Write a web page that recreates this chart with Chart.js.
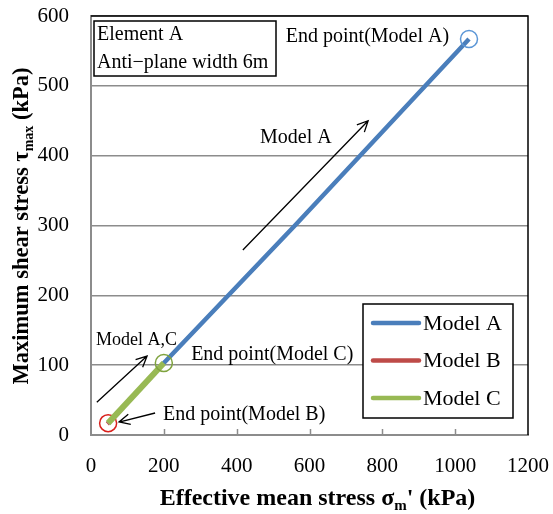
<!DOCTYPE html>
<html>
<head>
<meta charset="utf-8">
<script src="https://cdn.jsdelivr.net/npm/chart.js@4/dist/chart.umd.min.js"></script>
<style>
  html, body { margin: 0; padding: 0; background: #ffffff; }
  #wrap { width: 553px; height: 514px; }
</style>
</head>
<body>
<div id="wrap"><canvas id="chart" width="553" height="514"></canvas></div>
<script>
// Stress path: effective mean stress (kPa) vs maximum shear stress (kPa)
const modelAX = [47, 200, 560, 1038];
const modelAY = [17, 103, 300, 567];
const modelBX = [45, 47];
const modelBY = [16, 17];
const modelCX = [47, 200];
const modelCY = [17, 103];

const seriesLabels = ['Model A', 'Model B', 'Model C'];
const xTickValues = [0, 200, 400, 600, 800, 1000, 1200];
const yTickValues = [0, 100, 200, 300, 400, 500, 600];

const SERIF = "'Liberation Serif', 'Times New Roman', serif";

function pts(xs, ys) { return xs.map((x, i) => ({ x: x, y: ys[i] })); }

// hollow circle only at the final point of each path
function endRadius(r) {
  return ctx => (ctx.dataIndex === ctx.dataset.data.length - 1 ? r : 0);
}

const datasets = [
  {
    label: seriesLabels[0], data: pts(modelAX, modelAY),
    borderColor: '#4A7EBB', borderWidth: 4.5, order: 3,
    pointRadius: endRadius(8.5), pointBorderColor: '#5B96D6',
    pointBorderWidth: 1.5, pointBackgroundColor: 'rgba(0,0,0,0)'
  },
  {
    label: seriesLabels[1], data: pts(modelBX, modelBY),
    borderColor: '#BE4B48', borderWidth: 4.5, order: 2,
    pointRadius: endRadius(8.5), pointBorderColor: '#D9201C',
    pointBorderWidth: 1.5, pointBackgroundColor: 'rgba(0,0,0,0)'
  },
  {
    label: seriesLabels[2], data: pts(modelCX, modelCY),
    borderColor: '#98B954', borderWidth: 6, order: 1,
    pointRadius: endRadius(8.5), pointBorderColor: '#7FA33E',
    pointBorderWidth: 1.5, pointBackgroundColor: 'rgba(0,0,0,0)'
  }
];

// text notes and arrows, placed in data units
const notes = [
  { text: 'End point(Model A)', x: 535, y: 563, size: 20 },
  { text: 'Model A', x: 464, y: 418, size: 20 },
  { text: 'Model A,C', x: 14, y: 129, size: 18 },
  { text: 'End point(Model C)', x: 275, y: 107, size: 20 },
  { text: 'End point(Model B)', x: 198, y: 21.5, size: 20 }
];
const arrows = [
  { x0: 417, y0: 265, x1: 761, y1: 450 },
  { x0: 16, y0: 47, x1: 154, y1: 113 },
  { x0: 176, y0: 31.5, x1: 77, y1: 18.6 }
];
const infoLines = ['Element A', 'Anti\u2212plane width 6m'];

function drawArrow(ctx, ax, ay, bx, by) {
  const ang = Math.atan2(by - ay, bx - ax);
  const head = 12, spread = 0.45;
  ctx.beginPath();
  ctx.moveTo(ax, ay); ctx.lineTo(bx, by);
  ctx.moveTo(bx - head * Math.cos(ang - spread), by - head * Math.sin(ang - spread));
  ctx.lineTo(bx, by);
  ctx.lineTo(bx - head * Math.cos(ang + spread), by - head * Math.sin(ang + spread));
  ctx.stroke();
}

// draws a run of [text, font, baselineShift] pieces starting at x
function drawRuns(ctx, runs, x, y) {
  runs.forEach(r => {
    ctx.font = r[1];
    ctx.fillText(r[0], x, y + r[2]);
    x += ctx.measureText(r[0]).width;
  });
}
function runsWidth(ctx, runs) {
  let w = 0;
  runs.forEach(r => { ctx.font = r[1]; w += ctx.measureText(r[0]).width; });
  return w;
}

const decor = {
  id: 'decor',
  beforeDatasetsDraw(chart) {
    const { ctx, chartArea: a, scales } = chart;
    const xs = scales.x;
    ctx.save();
    // inward tick marks on the x axis
    ctx.strokeStyle = '#8C8C8C';
    ctx.lineWidth = 1.5;
    xTickValues.slice(1, -1).forEach(v => {
      const px = Math.round(xs.getPixelForValue(v)) + 0.5;
      ctx.beginPath(); ctx.moveTo(px, a.bottom); ctx.lineTo(px, a.bottom - 6); ctx.stroke();
    });
    // top and right frame
    ctx.strokeStyle = '#000000';
    ctx.lineWidth = 1.5;
    ctx.beginPath();
    ctx.moveTo(a.left, a.top); ctx.lineTo(a.right, a.top); ctx.lineTo(a.right, a.bottom);
    ctx.stroke();
    ctx.restore();
  },
  afterDraw(chart) {
    const { ctx, chartArea: a, scales } = chart;
    const xs = scales.x, ys = scales.y;
    ctx.save();
    ctx.fillStyle = '#000000';
    ctx.strokeStyle = '#000000';
    ctx.textBaseline = 'alphabetic';
    ctx.textAlign = 'left';

    // info box, top-left
    ctx.font = '20px ' + SERIF;
    const bx = a.left + 3, by = a.top + 5;
    ctx.lineWidth = 1.5;
    ctx.strokeRect(bx, by, 182, 55);
    ctx.fillText(infoLines[0], bx + 3, by + 19);
    ctx.fillText(infoLines[1], bx + 3, by + 47);

    // annotations
    notes.forEach(n => {
      ctx.font = n.size + 'px ' + SERIF;
      ctx.fillText(n.text, xs.getPixelForValue(n.x), ys.getPixelForValue(n.y));
    });
    ctx.lineWidth = 1.3;
    arrows.forEach(r => drawArrow(ctx,
      xs.getPixelForValue(r.x0), ys.getPixelForValue(r.y0),
      xs.getPixelForValue(r.x1), ys.getPixelForValue(r.y1)));

    // legend box
    const lx = a.right - 165, ly = a.bottom - 131, lw = 150, lh = 114;
    ctx.fillStyle = '#ffffff';
    ctx.fillRect(lx, ly, lw, lh);
    ctx.lineWidth = 1.5;
    ctx.strokeStyle = '#000000';
    ctx.strokeRect(lx, ly, lw, lh);
    ctx.font = '22px ' + SERIF;
    ctx.textBaseline = 'middle';
    ctx.fillStyle = '#000000';
    chart.data.datasets.forEach((d, i) => {
      const yy = ly + 19 + i * 37.5;
      ctx.strokeStyle = d.borderColor;
      ctx.lineWidth = 4.5;
      ctx.lineCap = 'round';
      ctx.beginPath(); ctx.moveTo(lx + 10, yy); ctx.lineTo(lx + 56, yy); ctx.stroke();
      ctx.fillText(d.label, lx + 60, yy + 1);
    });
    ctx.lineCap = 'butt';

    // axis titles
    ctx.textBaseline = 'alphabetic';
    ctx.fillStyle = '#000000';
    const bigX = 'bold 24px ' + SERIF, subX = 'bold 15px ' + SERIF;
    const xRuns = [['Effective mean stress \u03c3', bigX, 0], ['m', subX, 5], ["' (kPa)", bigX, 0]];
    const xw = runsWidth(ctx, xRuns);
    drawRuns(ctx, xRuns, (a.left + a.right) / 2 + 8 - xw / 2, 505);

    const bigY = 'bold 22.5px ' + SERIF, subY = 'bold 14px ' + SERIF;
    const yRuns = [['Maximum shear stress \u03c4', bigY, 0], ['max', subY, 5], [' (kPa)', bigY, 0]];
    const yw = runsWidth(ctx, yRuns);
    ctx.translate(28, 226);
    ctx.rotate(-Math.PI / 2);
    drawRuns(ctx, yRuns, -yw / 2, 0);
    ctx.restore();
  }
};

const plainNumber = v => String(v);

new Chart(document.getElementById('chart'), {
  type: 'scatter',
  data: { datasets: datasets.map(d => Object.assign({ showLine: true, tension: 0, fill: false }, d)) },
  options: {
    responsive: false,
    devicePixelRatio: 1,
    animation: false,
    layout: { padding: { left: 0, top: 16, right: 25, bottom: 0 } },
    plugins: { legend: { display: false }, tooltip: { enabled: false } },
    scales: {
      x: {
        type: 'linear', min: 0, max: 1200,
        afterBuildTicks: s => { s.ticks = xTickValues.map(v => ({ value: v })); },
        afterFit: s => { s.height = 79; s.paddingLeft = 0; s.paddingRight = 0; },
        grid: { display: false },
        border: { display: true, color: '#8C8C8C', width: 2 },
        ticks: { color: '#000000', font: { family: SERIF, size: 21 }, padding: 11, maxRotation: 0, callback: plainNumber }
      },
      y: {
        type: 'linear', min: 0, max: 600,
        afterBuildTicks: s => { s.ticks = yTickValues.map(v => ({ value: v })); },
        afterFit: s => { s.width = 91; s.paddingTop = 0; s.paddingBottom = 0; },
        grid: { color: '#8C8C8C', lineWidth: 1.5, drawTicks: false },
        border: { display: true, color: '#8C8C8C', width: 2 },
        ticks: { color: '#000000', font: { family: SERIF, size: 21 }, padding: 22, callback: plainNumber }
      }
    }
  },
  plugins: [decor]
});
</script>
</body>
</html>
